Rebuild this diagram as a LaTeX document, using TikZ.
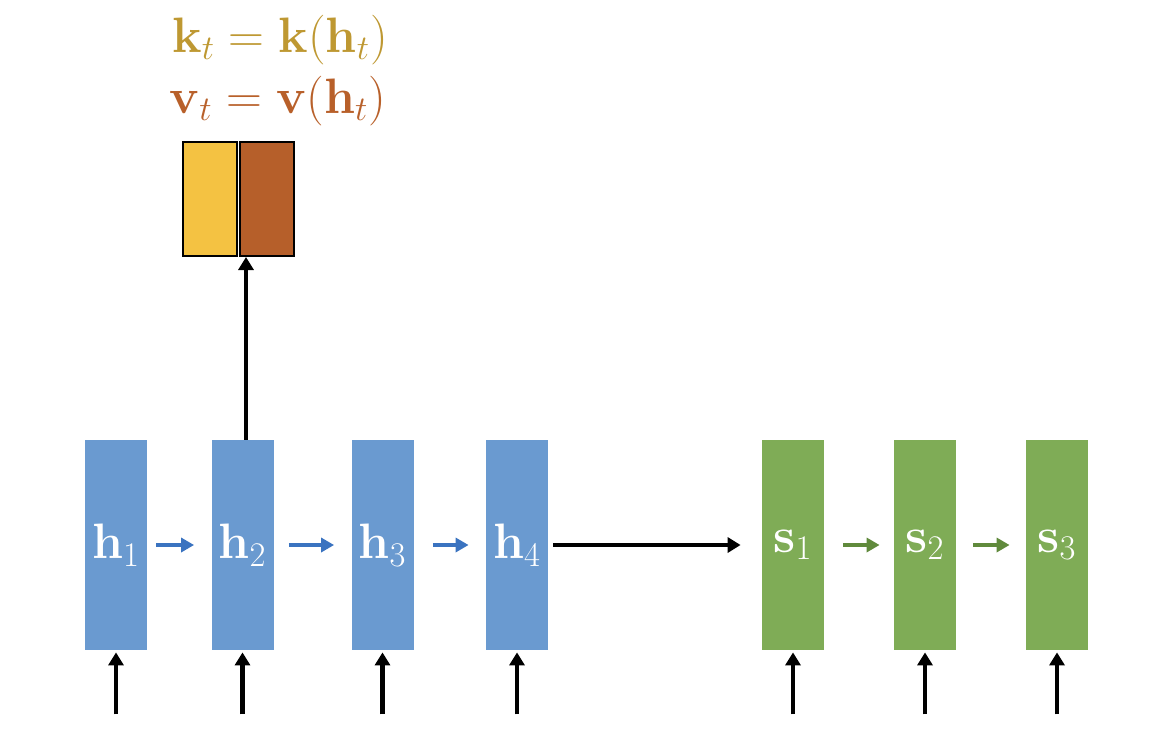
\documentclass[tikz,border=0pt]{standalone}
\usetikzlibrary{arrows.meta}
\definecolor{hblue}{RGB}{106,154,208}
\definecolor{harrow}{RGB}{58,115,192}
\definecolor{sgreen}{RGB}{127,172,86}
\definecolor{sarrow}{RGB}{96,138,60}
\definecolor{kyellow}{RGB}{244,194,66}
\definecolor{vbrown}{RGB}{182,95,42}
\definecolor{ktext}{RGB}{190,152,50}
\definecolor{vtext}{RGB}{184,96,42}
\tikzset{
  cell/.style={rectangle, inner sep=0pt, minimum width=31pt, minimum height=105pt, text=white, font=\fontsize{26}{30}\selectfont},
  hcell/.style={cell, fill=hblue},
  scell/.style={cell, fill=sgreen},
  kvbox/.style={rectangle, draw=black, line width=1pt, inner sep=0pt, minimum width=27pt, minimum height=57pt},
  inarrow/.style={line width=2.4pt, -{Triangle[length=6.5pt,width=7.5pt]}},
  harr/.style={line width=2pt, draw=harrow, -{Triangle[length=6.5pt,width=7pt]}},
  sarr/.style={line width=2pt, draw=sarrow, -{Triangle[length=6.5pt,width=7pt]}},
  eqn/.style={font=\fontsize{25}{30}\selectfont, inner sep=0pt}
}
\begin{document}
\begin{tikzpicture}[x=0.5pt, y=-0.5pt]
\useasboundingbox (0,0) rectangle (1150,740);
% encoder cells
\node[hcell] (h1) at (116,545) {$\mathbf{h}_1$};
\node[hcell] (h2) at (242.5,545) {$\mathbf{h}_2$};
\node[hcell] (h3) at (382.5,545) {$\mathbf{h}_3$};
\node[hcell] (h4) at (517,545) {$\mathbf{h}_4$};
% decoder cells
\node[scell] (s1) at (793,545) {$\mathbf{s}_1$};
\node[scell] (s2) at (925,545) {$\mathbf{s}_2$};
\node[scell] (s3) at (1057,545) {$\mathbf{s}_3$};
% key / value boxes
\node[kvbox, fill=kyellow] (k) at (209.5,199) {};
\node[kvbox, fill=vbrown] (v) at (267,199) {};
% equations
\node[eqn, text=ktext] (keq) at (280,40) {$\mathbf{k}_t = \mathbf{k}(\mathbf{h}_t)$};
\node[eqn, text=vtext] (veq) at (278,101) {$\mathbf{v}_t = \mathbf{v}(\mathbf{h}_t)$};
% recurrent arrows
\draw[harr] ([xshift=4.5pt]h1.east) -- ([xshift=-8.5pt]h2.west);
\draw[harr] ([xshift=7.5pt]h2.east) -- ([xshift=-8.5pt]h3.west);
\draw[harr] ([xshift=9.5pt]h3.east) -- ([xshift=-8.5pt]h4.west);
\draw[sarr] ([xshift=9.5pt]s1.east) -- ([xshift=-7pt]s2.west);
\draw[sarr] ([xshift=8.5pt]s2.east) -- ([xshift=-8pt]s3.west);
% bridge
\draw[inarrow] ([xshift=2.5pt]h4.east) -- ([xshift=-10.5pt]s1.west);
% up to key/value
\draw[inarrow] ([xshift=1.75pt]h2.north) -- ([xshift=-10.5pt]v.south);
% inputs
\foreach \n in {h1,h2,h3,h4,s1,s2,s3}{
  \coordinate (in-\n) at ([yshift=-32pt]\n.south);
  \draw[inarrow] (in-\n) -- ([yshift=-1pt]\n.south);
}
\end{tikzpicture}
\end{document}
